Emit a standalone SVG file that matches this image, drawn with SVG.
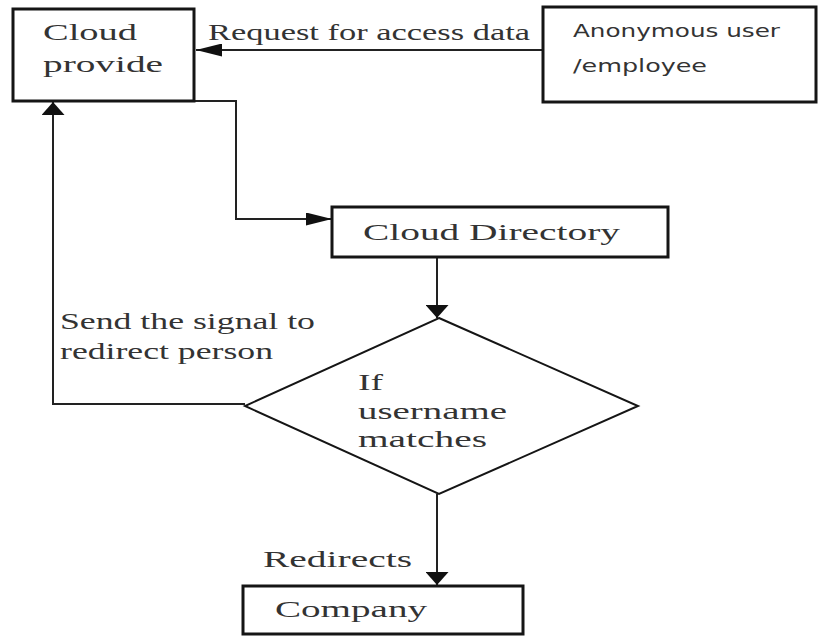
<svg xmlns="http://www.w3.org/2000/svg" width="821" height="640" viewBox="0 0 821 640">
  <style>
    .box { fill: #fff; stroke: #151515; stroke-width: 3; }
    .edge { fill: none; stroke: #222; stroke-width: 2; }
    .serif { font-family: "Liberation Serif", "Times New Roman", serif; font-size: 24px; fill: #333; }
    .sans { font-family: "DejaVu Sans Condensed", "DejaVu Sans", sans-serif; font-size: 18px; fill: #333; }
  </style>
  <defs>
    <!-- arrowheads for horizontal runs: long and flat -->
    <marker id="arrowH" viewBox="0 0 26 13" refX="26" refY="6.5" markerWidth="26" markerHeight="13" markerUnits="userSpaceOnUse" orient="auto">
      <path d="M0,0 L26,6.5 L0,13 z" fill="#111"/>
    </marker>
    <!-- arrowheads for vertical runs: short and wide -->
    <marker id="arrowV" viewBox="0 0 13 23" refX="13" refY="11.5" markerWidth="13" markerHeight="23" markerUnits="userSpaceOnUse" orient="auto">
      <path d="M0,0 L13,11.5 L0,23 z" fill="#111"/>
    </marker>
  </defs>
  <rect width="821" height="640" fill="#fff"/>

  <g id="connectors">
    <!-- user -> cloud provider -->
    <line class="edge" x1="543" y1="50" x2="196" y2="50" marker-end="url(#arrowH)"/>
    <!-- cloud provider -> directory -->
    <polyline class="edge" points="194,101 236,101 236,219 332,219" marker-end="url(#arrowH)"/>
    <!-- directory -> decision -->
    <line class="edge" x1="437" y1="258" x2="437" y2="318" marker-end="url(#arrowV)"/>
    <!-- decision -> cloud provider (redirect signal) -->
    <polyline class="edge" points="245,404 53,404 53,102" marker-end="url(#arrowV)"/>
    <!-- decision -> company -->
    <line class="edge" x1="437" y1="494" x2="437" y2="585" marker-end="url(#arrowV)"/>
    <text class="serif" x="208" y="40" textLength="322" lengthAdjust="spacingAndGlyphs">Request for access data</text>
    <text class="serif" x="60" y="329" textLength="255" lengthAdjust="spacingAndGlyphs">Send the signal to</text>
    <text class="serif" x="60" y="359" textLength="213" lengthAdjust="spacingAndGlyphs">redirect person</text>
    <text class="serif" x="263" y="567" textLength="149" lengthAdjust="spacingAndGlyphs">Redirects</text>
  </g>

  <g id="cloud-provider">
    <rect class="box" x="13" y="9" width="181" height="92"/>
    <text class="serif" x="43" y="40" textLength="94" lengthAdjust="spacingAndGlyphs">Cloud</text>
    <text class="serif" x="43" y="72" textLength="120" lengthAdjust="spacingAndGlyphs">provide</text>
  </g>

  <g id="user">
    <rect class="box" x="543" y="7" width="273" height="95"/>
    <text class="sans" x="573" y="37" textLength="207" lengthAdjust="spacingAndGlyphs">Anonymous user</text>
    <text class="sans" x="573" y="72" textLength="134" lengthAdjust="spacingAndGlyphs">/employee</text>
  </g>

  <g id="cloud-directory">
    <rect class="box" x="332" y="207" width="336" height="50"/>
    <text class="serif" x="363" y="240" textLength="257" lengthAdjust="spacingAndGlyphs">Cloud Directory</text>
  </g>

  <g id="decision">
    <polygon class="box" style="stroke-width:2" points="439,318 638,406 439,494 245,406"/>
    <text class="serif" x="358" y="390" textLength="25" lengthAdjust="spacingAndGlyphs">If</text>
    <text class="serif" x="358" y="419" textLength="149" lengthAdjust="spacingAndGlyphs">username</text>
    <text class="serif" x="358" y="447" textLength="129" lengthAdjust="spacingAndGlyphs">matches</text>
  </g>

  <g id="company">
    <rect class="box" x="243" y="586" width="280" height="48"/>
    <text class="serif" x="275" y="617" textLength="152" lengthAdjust="spacingAndGlyphs">Company</text>
  </g>
</svg>
